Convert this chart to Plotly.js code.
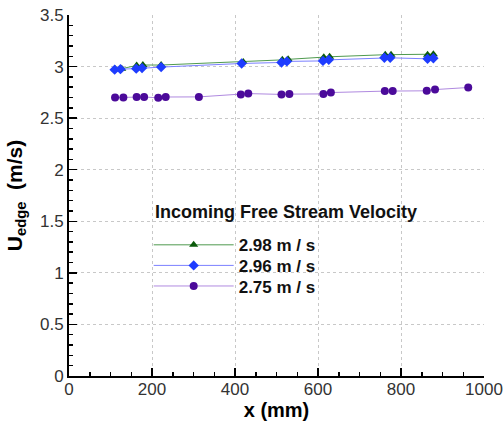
<!DOCTYPE html>
<html>
<head>
<meta charset="utf-8">
<script src="https://cdn.plot.ly/plotly-3.0.1.min.js"></script>
<style>html,body{margin:0;padding:0;background:#fff;}#chart{width:504px;height:425px;}</style>
</head>
<body>
<div id="chart"></div>
<script>
// Series: incoming free stream velocity 2.98 m/s
const xA = [112, 127, 163, 178, 222, 420, 514, 528, 614, 628, 762, 776, 864, 878];
const yA = [2.975, 2.98, 3.01, 3.015, 3.015, 3.045, 3.065, 3.07, 3.09, 3.095, 3.115, 3.115, 3.115, 3.12];
// 2.96 m/s
const xB = [110, 124, 162, 176, 222, 416, 512, 525, 612, 626, 760, 774, 864, 878];
const yB = [2.97, 2.975, 2.98, 2.985, 2.995, 3.03, 3.04, 3.05, 3.055, 3.065, 3.085, 3.085, 3.075, 3.08];
// 2.75 m/s
const xC = [111, 131, 163, 181, 215, 233, 313, 414, 432, 512, 531, 613, 631, 761, 780, 862, 882, 962];
const yC = [2.70, 2.70, 2.705, 2.705, 2.697, 2.705, 2.706, 2.73, 2.738, 2.73, 2.733, 2.735, 2.748, 2.762, 2.762, 2.765, 2.777, 2.797];
const names = ["2.98 m / s", "2.96 m / s", "2.75 m / s"];
const legendTitle = "Incoming Free Stream Velocity";

const FONT = "Liberation Sans, Arial, sans-serif";

const traces = [
  {x: xA, y: yA, name: names[0], mode: "lines+markers", legend: "legend",
   line: {color: "#4f9a4f", width: 1},
   marker: {symbol: "triangle-up", size: 8, color: "#0a5a0a"}},
  {x: xB, y: yB, name: names[1], mode: "lines+markers", legend: "legend2",
   line: {color: "#7b80ff", width: 1},
   marker: {symbol: "diamond", size: 8, color: "#1e3cff"}},
  {x: xC, y: yC, name: names[2], mode: "lines+markers", legend: "legend3",
   line: {color: "#b08ae0", width: 1},
   marker: {symbol: "circle", size: 8, color: "#4b0a9a"}}
];

function leg(y) {
  return {
    x: 0.192, y: y, xanchor: "left", yanchor: "top",
    bgcolor: "rgba(0,0,0,0)",
    font: {size: 17, family: FONT, weight: "bold", color: "#111"},
    itemwidth: 80
  };
}

const layout = {
  width: 504, height: 425,
  margin: {l: 69, r: 20, t: 15, b: 49},
  paper_bgcolor: "#fff", plot_bgcolor: "#fff",
  font: {family: FONT, color: "#000", size: 17},
  showlegend: true,
  legend: leg(0.412),
  legend2: leg(0.355),
  legend3: leg(0.298),
  annotations: [{
    text: "<b>" + legendTitle + "</b>", xref: "paper", yref: "paper",
    x: 0.202, y: 0.455, xanchor: "left", yanchor: "middle", showarrow: false,
    font: {size: 18, family: FONT, color: "#111"}
  }],
  xaxis: {
    range: [0, 1000], tick0: 0, dtick: 200,
    showline: true, linecolor: "#000", linewidth: 2,
    ticks: "inside", ticklen: 8, tickwidth: 1.5, tickcolor: "#000",
    minor: {dtick: 50, ticks: "inside", ticklen: 4, tickcolor: "#000", showgrid: false},
    showgrid: true, gridcolor: "#c8c8c8", griddash: "dot", gridwidth: 1,
    zeroline: false, mirror: false,
    tickfont: {size: 17, color: "#333"},
    ticklabelstandoff: -3,
    title: {text: "<b>x (mm)</b>", font: {size: 20}, standoff: 5}
  },
  yaxis: {
    range: [0, 3.5], tick0: 0, dtick: 0.5,
    showline: true, linecolor: "#000", linewidth: 2,
    ticks: "inside", ticklen: 8, tickwidth: 1.5, tickcolor: "#000",
    minor: {dtick: 0.1, ticks: "inside", ticklen: 4, tickcolor: "#000", showgrid: false},
    showgrid: true, gridcolor: "#c8c8c8", griddash: "dot", gridwidth: 1,
    zeroline: false, mirror: false,
    tickfont: {size: 17, color: "#333"},
    title: {text: "<b>U<sub>edge</sub>  (m/s)</b>", font: {size: 21}, standoff: 12}
  }
};

Plotly.newPlot("chart", traces, layout, {staticPlot: true, displayModeBar: false});
</script>
</body>
</html>
